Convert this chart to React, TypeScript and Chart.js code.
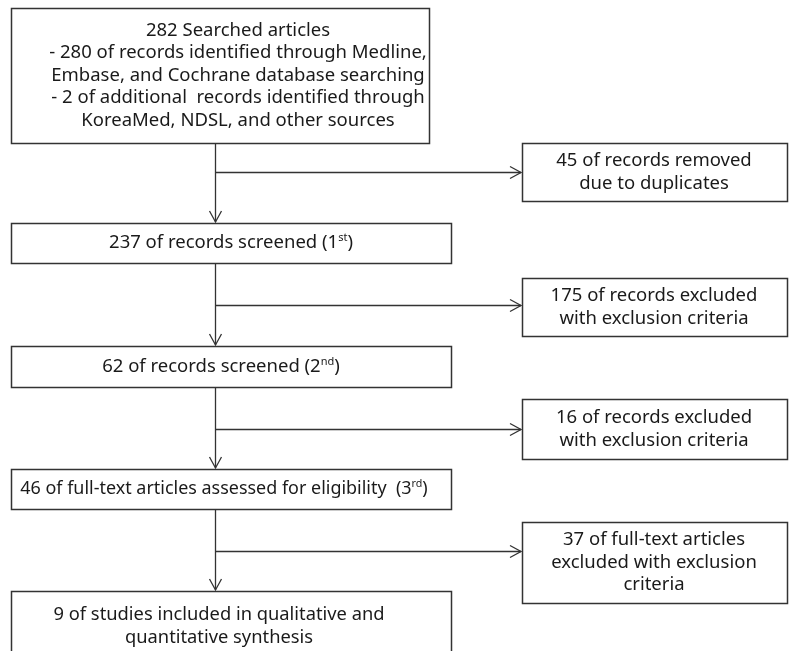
import React, { useEffect, useRef } from "react";
import { Chart, registerables } from "chart.js";

Chart.register(...registerables);

// ---- data ----
const mainCounts = [282, 237, 62, 46, 9];
const excludedCounts = [45, 175, 16, 37];

// "^{..}" marks superscript text
const mainStepLines: string[][] = [
  [
    `${mainCounts[0]} Searched articles`,
    "- 280 of records identified through Medline,",
    "Embase, and Cochrane database searching",
    "- 2 of additional  records identified through",
    "KoreaMed, NDSL, and other sources",
  ],
  [`${mainCounts[1]} of records screened (1^{st})`],
  [`${mainCounts[2]} of records screened (2^{nd})`],
  [`${mainCounts[3]} of full-text articles assessed for eligibility  (3^{rd})`],
  [`${mainCounts[4]} of studies included in qualitative and`, "quantitative synthesis"],
];

const excludedLines: string[][] = [
  [`${excludedCounts[0]} of records removed`, "due to duplicates"],
  [`${excludedCounts[1]} of records excluded`, "with exclusion criteria"],
  [`${excludedCounts[2]} of records excluded`, "with exclusion criteria"],
  [`${excludedCounts[3]} of full-text articles`, "excluded with exclusion", "criteria"],
];

// ---- layout (in data units of the hidden linear scales) ----
const W = 789;
const H = 651;
const mainBoxes = [
  { x0: 11, y0: 8, x1: 429, y1: 143, cx: 238, condense: 1 },
  { x0: 11, y0: 223, x1: 451, y1: 263, cx: 231, condense: 1 },
  { x0: 11, y0: 346, x1: 451, y1: 387, cx: 221, condense: 1 },
  { x0: 11, y0: 469, x1: 451, y1: 509, cx: 224, condense: 0.97 },
  { x0: 11, y0: 591, x1: 451, y1: 661, cx: 219, condense: 0.99 },
];
const sideBoxes = [
  { x0: 522, y0: 143, x1: 787, y1: 201, cx: 654, condense: 1 },
  { x0: 522, y0: 278, x1: 787, y1: 336, cx: 654, condense: 1 },
  { x0: 522, y0: 399, x1: 787, y1: 459, cx: 654, condense: 1 },
  { x0: 522, y0: 522, x1: 787, y1: 603, cx: 654, condense: 1 },
];
const spineX = 215;
const branchY = [172, 305, 429, 551];

const FONT = '"Noto Sans", "Open Sans", sans-serif';
const FONT_SIZE = 18.5;
const SUP_SIZE = 11;
const LINE_H = 22.5;
const INK = "#1a1a1a";
const STROKE = "#333333";

function parseSegs(s: string) {
  const segs: { t: string; sup: boolean }[] = [];
  const re = /\^\{([^}]*)\}/g;
  let last = 0;
  let m: RegExpExecArray | null;
  while ((m = re.exec(s))) {
    if (m.index > last) segs.push({ t: s.slice(last, m.index), sup: false });
    segs.push({ t: m[1], sup: true });
    last = m.index + m[0].length;
  }
  if (last < s.length) segs.push({ t: s.slice(last), sup: false });
  return segs;
}

const flowPlugin = {
  id: "flow",
  afterDraw(chart: any) {
    const ctx: CanvasRenderingContext2D = chart.ctx;
    const xs = chart.scales.x;
    const ys = chart.scales.y;
    const px = (v: number) => xs.getPixelForValue(v);
    const py = (v: number) => ys.getPixelForValue(v);

    ctx.save();
    ctx.fillStyle = "#ffffff";
    ctx.fillRect(0, 0, chart.width, chart.height);

    const drawBox = (b: any, lines: string[]) => {
      const x0 = Math.round(px(b.x0)) + 0.5;
      const y0 = Math.round(py(b.y0)) + 0.5;
      const x1 = Math.round(px(b.x1)) + 0.5;
      const y1 = Math.round(py(b.y1)) + 0.5;
      ctx.strokeStyle = STROKE;
      ctx.lineWidth = 1.5;
      ctx.strokeRect(x0, y0, x1 - x0, y1 - y0);

      const n = lines.length;
      const cy = py((b.y0 + b.y1) / 2);
      const cx = px(b.cx);
      ctx.fillStyle = INK;
      ctx.textBaseline = "middle";
      ctx.textAlign = "left";
      lines.forEach((line, i) => {
        const y = cy + (i - (n - 1) / 2) * LINE_H;
        const segs = parseSegs(line);
        let total = 0;
        const widths = segs.map((sg) => {
          ctx.font = `${sg.sup ? SUP_SIZE : FONT_SIZE}px ${FONT}`;
          const w = ctx.measureText(sg.t).width;
          total += w;
          return w;
        });
        ctx.save();
        ctx.translate(cx, y);
        ctx.scale(b.condense, 1);
        let x = -total / 2;
        segs.forEach((sg, k) => {
          ctx.font = `${sg.sup ? SUP_SIZE : FONT_SIZE}px ${FONT}`;
          ctx.fillText(sg.t, x, sg.sup ? -5 : 0);
          x += widths[k];
        });
        ctx.restore();
      });
    };

    const arrowDown = (x: number, yTip: number) => {
      ctx.beginPath();
      ctx.moveTo(x - 6, yTip - 11);
      ctx.lineTo(x, yTip);
      ctx.lineTo(x + 6, yTip - 11);
      ctx.stroke();
    };
    const arrowRight = (xTip: number, y: number) => {
      ctx.beginPath();
      ctx.moveTo(xTip - 11, y - 6);
      ctx.lineTo(xTip, y);
      ctx.lineTo(xTip - 11, y + 6);
      ctx.stroke();
    };

    // connectors
    ctx.strokeStyle = STROKE;
    ctx.lineWidth = 1.3;
    const sx = Math.round(px(spineX)) + 0.5;
    for (let i = 0; i < mainBoxes.length - 1; i++) {
      const yA = py(mainBoxes[i].y1);
      const yB = py(mainBoxes[i + 1].y0);
      ctx.beginPath();
      ctx.moveTo(sx, yA);
      ctx.lineTo(sx, yB - 1);
      ctx.stroke();
      arrowDown(sx, yB - 1);
      const by = Math.round(py(branchY[i])) + 0.5;
      const xe = px(sideBoxes[i].x0) - 1;
      ctx.beginPath();
      ctx.moveTo(sx, by);
      ctx.lineTo(xe, by);
      ctx.stroke();
      arrowRight(xe, by);
    }

    mainBoxes.forEach((b, i) => drawBox(b, mainStepLines[i]));
    sideBoxes.forEach((b, i) => drawBox(b, excludedLines[i]));
    ctx.restore();
  },
};

export default function App() {
  const ref = useRef<HTMLCanvasElement | null>(null);
  useEffect(() => {
    if (!ref.current) return;
    const chart = new Chart(ref.current, {
      type: "scatter",
      data: { datasets: [{ data: [], pointRadius: 0 }] },
      options: {
        animation: false,
        responsive: false,
        devicePixelRatio: 1,
        layout: { padding: 0 },
        plugins: { legend: { display: false }, tooltip: { enabled: false } },
        scales: {
          x: { type: "linear", min: 0, max: W, display: false },
          y: { type: "linear", min: 0, max: H, reverse: true, display: false },
        },
      },
      plugins: [flowPlugin],
    });
    return () => chart.destroy();
  }, []);
  return (
    <div style={{ position: "fixed", left: 0, top: 0, width: W, height: H, background: "#fff" }}>
      <canvas ref={ref} width={W} height={H} style={{ display: "block" }} />
    </div>
  );
}
